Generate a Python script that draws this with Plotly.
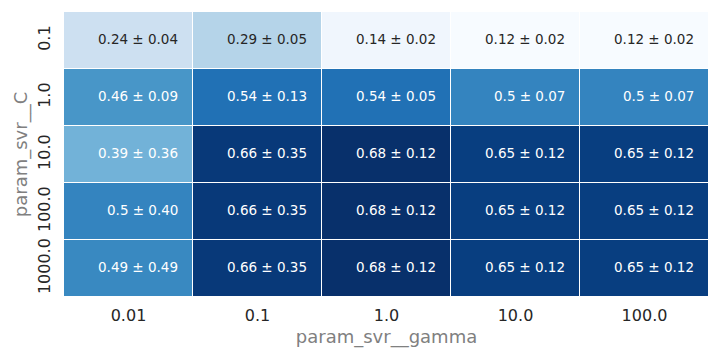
import plotly.graph_objects as go

gamma_labels = ["0.01", "0.1", "1.0", "10.0", "100.0"]
c_labels = ["0.1", "1.0", "10.0", "100.0", "1000.0"]

mean_scores = [
    [0.24, 0.29, 0.14, 0.12, 0.12],
    [0.46, 0.54, 0.54, 0.50, 0.50],
    [0.39, 0.66, 0.68, 0.65, 0.65],
    [0.50, 0.66, 0.68, 0.65, 0.65],
    [0.49, 0.66, 0.68, 0.65, 0.65],
]
annot_text = [
    ["0.24 ± 0.04", "0.29 ± 0.05", "0.14 ± 0.02", "0.12 ± 0.02", "0.12 ± 0.02"],
    ["0.46 ± 0.09", "0.54 ± 0.13", "0.54 ± 0.05", "0.5 ± 0.07", "0.5 ± 0.07"],
    ["0.39 ± 0.36", "0.66 ± 0.35", "0.68 ± 0.12", "0.65 ± 0.12", "0.65 ± 0.12"],
    ["0.5 ± 0.40", "0.66 ± 0.35", "0.68 ± 0.12", "0.65 ± 0.12", "0.65 ± 0.12"],
    ["0.49 ± 0.49", "0.66 ± 0.35", "0.68 ± 0.12", "0.65 ± 0.12", "0.65 ± 0.12"],
]

blues = ["#f7fbff", "#deebf7", "#c6dbef", "#9ecae1", "#6baed6",
         "#4292c6", "#2171b5", "#08519c", "#08306b"]
colorscale = [[i / (len(blues) - 1), c] for i, c in enumerate(blues)]

zmin = min(min(r) for r in mean_scores)
zmax = max(max(r) for r in mean_scores)

fig = go.Figure(go.Heatmap(
    z=mean_scores,
    x=list(range(len(gamma_labels))),
    y=list(range(len(c_labels))),
    colorscale=colorscale,
    zmin=zmin, zmax=zmax,
    showscale=False,
    xgap=1, ygap=1,
    hoverinfo="skip",
))

for i, row in enumerate(annot_text):
    for j, txt in enumerate(row):
        frac = (mean_scores[i][j] - zmin) / (zmax - zmin)
        color = "#262626" if frac < 0.45 else "white"
        fig.add_annotation(
            x=j + 0.40, y=i, text=txt, showarrow=False,
            xanchor="right", yanchor="middle", yshift=2,
            font=dict(family="DejaVu Sans", size=13.5, color=color),
        )

fig.update_layout(
    width=720, height=360,
    margin=dict(l=64, r=11, t=12, b=63),
    paper_bgcolor="white", plot_bgcolor="white",
    font=dict(family="DejaVu Sans", color="#262626"),
)
fig.update_xaxes(
    tickmode="array", tickvals=list(range(len(gamma_labels))), ticktext=gamma_labels,
    tickfont=dict(size=16, color="#262626"), automargin=False,
    ticks="outside", ticklen=4, tickcolor="white",
    showgrid=False, zeroline=False, range=[-0.5, 4.5],
    title=dict(text="param_svr__gamma", font=dict(size=18, color="#808080"), standoff=6),
)
fig.update_yaxes(
    tickmode="array", tickvals=list(range(len(c_labels))), ticktext=c_labels,
    tickfont=dict(size=16, color="#262626"), tickangle=-90, automargin=False,
    ticks="outside", ticklen=7, tickcolor="white",
    showgrid=False, zeroline=False, range=[4.5, -0.5],
    title=dict(text="param_svr__C", font=dict(size=18, color="#808080"), standoff=2),
)

fig.write_html("out.html", config={"displayModeBar": False},
               post_script="document.body.style.margin='0';")
